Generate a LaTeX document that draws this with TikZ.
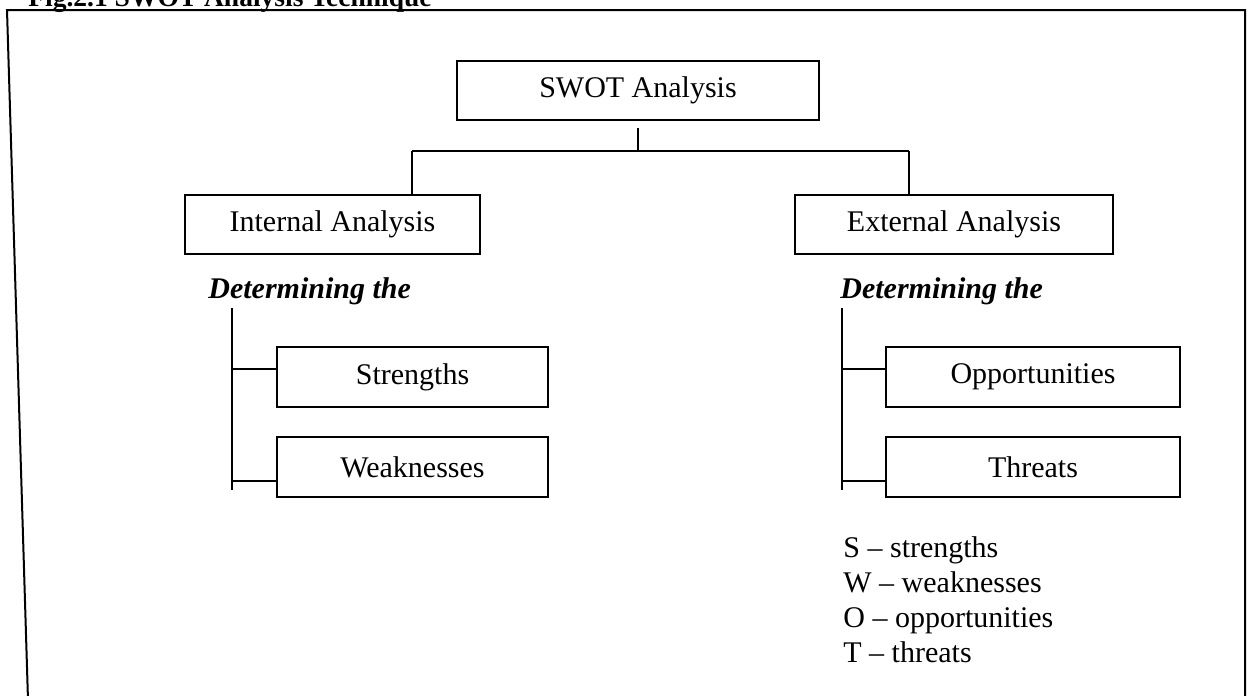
\documentclass[tikz,border=0pt]{standalone}
\usepackage{fontspec}
\setmainfont{Liberation Serif}
\begin{document}
\begin{tikzpicture}[x=0.5pt,y=-0.5pt,
  every node/.style={font=\fontsize{15}{18}\selectfont},
  box/.style={draw,line width=0.9pt,inner sep=0pt,minimum height=29.5pt},
  conn/.style={line width=0.7pt},
  frameline/.style={line width=1pt},
  detlabel/.style={anchor=base west,inner sep=0pt,font=\fontsize{15}{18}\selectfont\bfseries\itshape},
  legend/.style={anchor=base west,inner sep=0pt}]
\useasboundingbox (0,0) rectangle (1249,696);
\clip (0,0) rectangle (1249,696);
% outer frame
\draw[frameline] (28,700) -- (7,10) -- (1245,10) -- (1245,700);
\node[anchor=base west,inner sep=0pt,font=\fontsize{13.75}{16}\selectfont\bfseries] (title) at (28,6) {Fig.2.1 SWOT Analysis Technique};
% boxes
\node[box,minimum width=181pt] (swot) at (638,90.5) {SWOT Analysis};
\node[box,minimum width=147.5pt] (internal) at (332.5,224.5) {Internal Analysis};
\node[box,minimum width=159pt] (external) at (954,224.5) {External Analysis};
\node[box,minimum width=135.5pt,minimum height=30pt] (strengths) at (412.5,377) {Strengths};
\node[box,minimum width=135.5pt,minimum height=30pt] (weaknesses) at (412.5,467) {Weaknesses};
\node[box,minimum width=147pt,minimum height=30pt] (opp) at (1033,377) {Opportunities};
\node[box,minimum width=147pt,minimum height=30pt] (threats) at (1033,467) {Threats};
% top connectors
\coordinate (hub) at (638,151);
\coordinate (hl) at (412,151);
\coordinate (hr) at (909,151);
\draw[conn] ([yshift=-3.5pt]swot.south) -- (hub);
\draw[conn] (hl) -- (hr);
\draw[conn] (hl) -- (hl |- internal.north);
\draw[conn] (hr) -- (hr |- external.north);
% determining labels
\node[detlabel] (detl) at (208,298) {Determining the};
\node[detlabel] (detr) at (840,298) {Determining the};
% left tree
\coordinate (lt) at (232,308);
\coordinate (lb) at (232,490);
\path ([yshift=4pt]strengths.west) coordinate (sj);
\path ([yshift=-7pt]weaknesses.west) coordinate (wj);
\draw[conn] (lt) -- (lb);
\draw[conn] (sj) -- (lt |- sj);
\draw[conn] (wj) -- (lt |- wj);
% right tree
\coordinate (rt) at (842,308);
\coordinate (rb) at (842,490);
\path ([yshift=4pt]opp.west) coordinate (oj);
\path ([yshift=-7pt]threats.west) coordinate (tj);
\draw[conn] (rt) -- (rb);
\draw[conn] (oj) -- (rt |- oj);
\draw[conn] (tj) -- (rt |- tj);
% legend
\node[legend] (ls) at (843,557) {S -- strengths};
\node[legend] (lw) at (843,592) {W -- weaknesses};
\node[legend] (lo) at (843,627) {O -- opportunities};
\node[legend] (lt2) at (843,662) {T -- threats};
\end{tikzpicture}
\end{document}
